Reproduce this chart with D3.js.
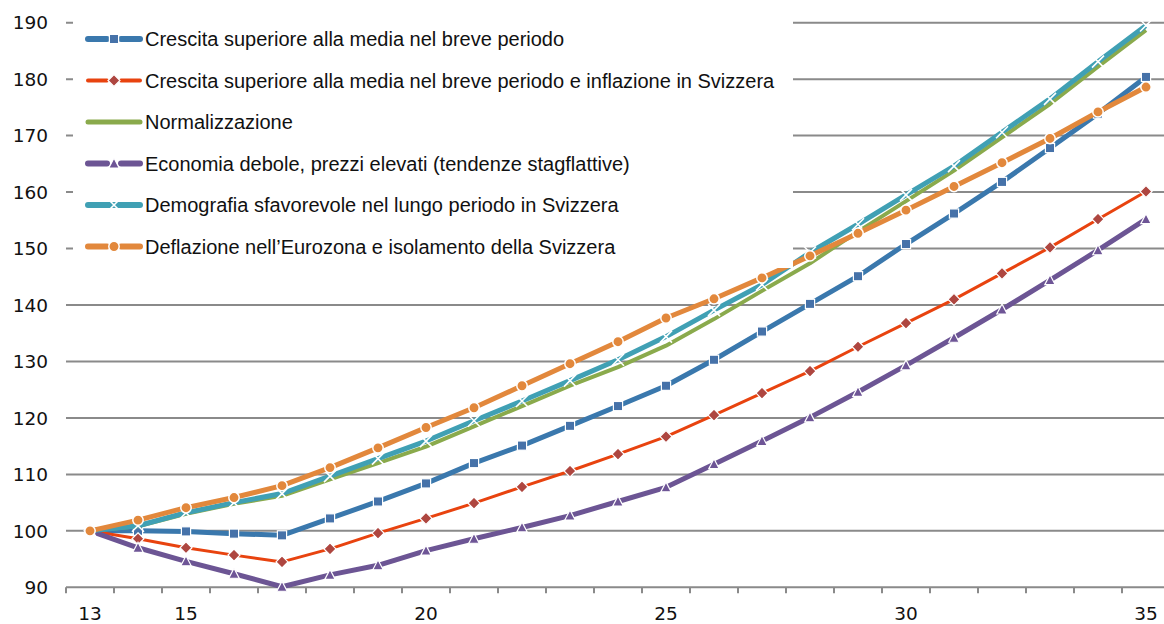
<!DOCTYPE html>
<html>
<head>
<meta charset="utf-8">
<script src="https://cdn.jsdelivr.net/npm/d3@7"></script>
<style>
  html, body { margin: 0; padding: 0; background: #fff; }
  svg { display: block; }
</style>
</head>
<body>
<svg id="chart" width="1164" height="624"></svg>
<script>
// Index values, 2013 = 100 (years shown as two digits)
const years = [13, 14, 15, 16, 17, 18, 19, 20, 21, 22, 23, 24, 25, 26, 27, 28, 29, 30, 31, 32, 33, 34, 35];

const crescitaBreve = [100, 100.0, 99.9, 99.5, 99.2, 102.2, 105.2, 108.4, 112.0, 115.1, 118.6, 122.1, 125.7, 130.3, 135.3, 140.2, 145.1, 150.8, 156.2, 161.8, 167.8, 173.9, 180.4];
const crescitaInflazione = [100, 98.6, 97.0, 95.7, 94.5, 96.8, 99.6, 102.2, 104.9, 107.8, 110.6, 113.6, 116.7, 120.5, 124.4, 128.3, 132.6, 136.8, 141.0, 145.6, 150.2, 155.2, 160.1];
const normalizzazione = [100, 100.8, 103.0, 104.8, 106.2, 109.1, 112.0, 114.9, 118.5, 122.1, 125.7, 129.0, 132.8, 137.5, 142.5, 147.4, 153.0, 158.4, 163.8, 169.7, 175.6, 182.2, 188.7];
const economiaDebole = [100, 97.0, 94.6, 92.4, 90.1, 92.2, 93.9, 96.5, 98.6, 100.6, 102.7, 105.2, 107.7, 111.8, 115.9, 120.1, 124.6, 129.3, 134.2, 139.2, 144.4, 149.7, 155.2];
const demografia = [100, 100.9, 103.2, 105.0, 106.6, 109.7, 112.8, 115.9, 119.5, 123.0, 126.6, 130.3, 134.4, 139.1, 143.6, 149.3, 154.3, 159.5, 164.6, 170.6, 176.5, 183.1, 189.5];
const deflazione = [100, 101.9, 104.1, 105.9, 108.0, 111.2, 114.7, 118.3, 121.8, 125.7, 129.6, 133.5, 137.7, 141.1, 144.8, 148.7, 152.7, 156.8, 161.0, 165.2, 169.5, 174.2, 178.6];

const seriesNames = [
  "Crescita superiore alla media nel breve periodo",
  "Crescita superiore alla media nel breve periodo e inflazione in Svizzera",
  "Normalizzazione",
  "Economia debole, prezzi elevati (tendenze stagflattive)",
  "Demografia sfavorevole nel lungo periodo in Svizzera",
  "Deflazione nell\u2019Eurozona e isolamento della Svizzera"
];
const seriesValues = [crescitaBreve, crescitaInflazione, normalizzazione, economiaDebole, demografia, deflazione];

const yTicks = [90, 100, 110, 120, 130, 140, 150, 160, 170, 180, 190];
const xTickLabels = [13, 15, 20, 25, 30, 35];

// Visual style per series
const styles = [
  { line: "#3A78AD", width: 5, marker: "square", fill: "#4672A9" },
  { line: "#E8430F", width: 3, marker: "diamond", fill: "#AE4640" },
  { line: "#8AAA4C", width: 4, marker: "none", fill: null },
  { line: "#6C5594", width: 5, marker: "triangle", fill: "#6E5596" },
  { line: "#40A0B4", width: 5, marker: "x", fill: null },
  { line: "#E2883C", width: 5, marker: "circle", fill: "#E2883C" }
];

const svg = d3.select("#chart");
const W = 1164, H = 624;

// Each year occupies one category slot; points sit in the middle of their slot
const x = d3.scaleLinear().domain([12.5, 35.5]).range([66, 1170]);
const y = d3.scaleLinear().domain([90, 190]).range([587.3, 22.7]);

const gridColor = "#8A8A8A";

// Horizontal gridlines
svg.append("g")
  .selectAll("line")
  .data(yTicks.filter(v => v !== 90))
  .join("line")
  .attr("x1", 66).attr("x2", W)
  .attr("y1", d => y(d)).attr("y2", d => y(d))
  .attr("stroke", gridColor).attr("stroke-width", 2);

// Y labels
svg.append("g")
  .selectAll("text")
  .data(yTicks)
  .join("text")
  .attr("x", 48)
  .attr("y", d => y(d))
  .attr("dy", "0.36em")
  .attr("text-anchor", "end")
  .attr("font-family", "DejaVu Sans")
  .attr("font-size", 18.5)
  .attr("fill", "#111")
  .text(d => d);

// Bottom axis: ticks on slot boundaries, labels on selected years
const boundaries = d3.range(12.5, 35.6, 1);
const xAxis = svg.append("g").attr("transform", `translate(0,${y(90)})`);
xAxis.append("line")
  .attr("x1", 66).attr("x2", W)
  .attr("y1", 0).attr("y2", 0)
  .attr("stroke", gridColor).attr("stroke-width", 2);
xAxis.selectAll("line.tick")
  .data(boundaries)
  .join("line")
  .attr("class", "tick")
  .attr("x1", d => x(d)).attr("x2", d => x(d))
  .attr("y1", 0).attr("y2", 6)
  .attr("stroke", gridColor).attr("stroke-width", 2);
xAxis.selectAll("text")
  .data(xTickLabels)
  .join("text")
  .attr("x", d => x(d))
  .attr("y", 33)
  .attr("text-anchor", "middle")
  .attr("font-family", "DejaVu Sans")
  .attr("font-size", 18.5)
  .attr("fill", "#111")
  .text(d => d);

// Marker painter
function drawMarker(sel, st) {
  if (st.marker === "square") {
    sel.append("rect")
      .attr("x", -4.6).attr("y", -4.6).attr("width", 9.2).attr("height", 9.2)
      .attr("fill", st.fill).attr("stroke", "#fff").attr("stroke-width", 1.2);
  } else if (st.marker === "diamond") {
    sel.append("path")
      .attr("d", "M0,-6L6,0L0,6L-6,0Z")
      .attr("fill", st.fill).attr("stroke", "#fff").attr("stroke-width", 1.2);
  } else if (st.marker === "triangle") {
    sel.append("path")
      .attr("d", "M0,-5.5L5.2,4.5L-5.2,4.5Z")
      .attr("fill", st.fill).attr("stroke", "#fff").attr("stroke-width", 1.2);
  } else if (st.marker === "circle") {
    sel.append("circle")
      .attr("r", 5.2)
      .attr("fill", st.fill).attr("stroke", "#fff").attr("stroke-width", 1.5);
  } else if (st.marker === "x") {
    sel.append("path")
      .attr("d", "M-6,-6L6,6M-6,6L6,-6")
      .attr("stroke", "#fff").attr("stroke-width", 1.6)
      .attr("fill", "none");
  }
}

// Series lines and markers
const line = d3.line()
  .x((d, i) => x(years[i]))
  .y(d => y(d));

seriesValues.forEach((vals, k) => {
  const st = styles[k];
  const g = svg.append("g");
  g.append("path")
    .datum(vals)
    .attr("d", line)
    .attr("fill", "none")
    .attr("stroke", st.line)
    .attr("stroke-width", st.width)
    .attr("stroke-linejoin", "round");
  if (st.marker !== "none") {
    g.selectAll("g.m")
      .data(vals)
      .join("g")
      .attr("class", "m")
      .attr("transform", (d, i) => `translate(${x(years[i])},${y(d)})`)
      .each(function () { drawMarker(d3.select(this), st); });
  }
});

// Legend
const legend = svg.append("g");
legend.append("rect")
  .attr("x", 73).attr("y", 0).attr("width", 720).attr("height", 268)
  .attr("fill", "#fff");

const rowY = i => 39 + i * 41.5;
seriesNames.forEach((name, i) => {
  const st = styles[i];
  const row = legend.append("g").attr("transform", `translate(0,${rowY(i)})`);
  if (st.marker === "none") {
    row.append("line")
      .attr("x1", 88).attr("x2", 140).attr("y1", 0).attr("y2", 0)
      .attr("stroke", st.line).attr("stroke-width", st.width + 1)
      .attr("stroke-linecap", "round");
  } else {
    [[88, 107], [121, 140]].forEach(([a, b]) => {
      row.append("line")
        .attr("x1", a).attr("x2", b).attr("y1", 0).attr("y2", 0)
        .attr("stroke", st.line).attr("stroke-width", st.width + 1)
        .attr("stroke-linecap", "round");
    });
    const m = row.append("g").attr("transform", "translate(114,0)");
    if (st.marker === "x") {
      m.append("line").attr("x1", -7).attr("x2", 7).attr("y1", 0).attr("y2", 0)
        .attr("stroke", st.line).attr("stroke-width", st.width + 1);
    }
    drawMarker(m, st);
  }
  row.append("text")
    .attr("x", 145)
    .attr("y", 7)
    .attr("font-family", "Liberation Sans")
    .attr("font-size", 20)
    .attr("fill", "#111")
    .text(name);
});
</script>
</body>
</html>
